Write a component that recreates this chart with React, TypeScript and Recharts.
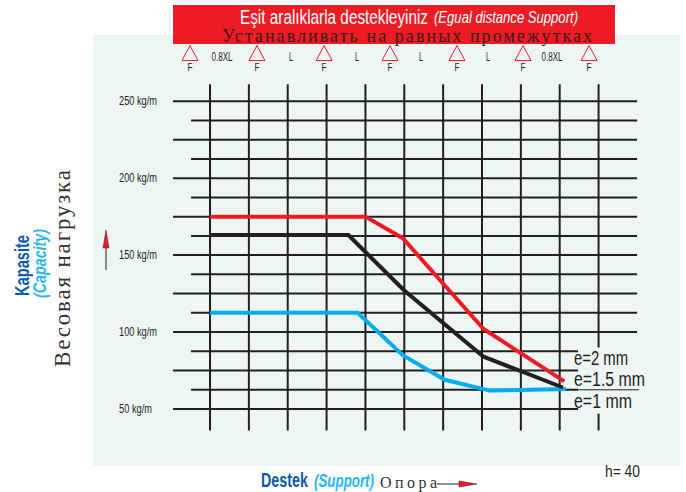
import React from "react";
import { ComposedChart, Line, Scatter, XAxis, YAxis, ReferenceLine } from "recharts";

const xTicks = [0.5, 1, 1.5, 2, 2.5, 3];
const yTicks = [50, 100, 150, 200, 250];
const gridX = [0.5, 0.75, 1, 1.25, 1.5, 1.75, 2, 2.25, 2.5, 2.75];
const gridY = [50, 62.5, 75, 87.5, 100, 112.5, 125, 137.5, 150, 162.5, 175, 187.5, 200, 212.5, 225, 237.5, 250];

const red = [
  { x: 0.5, y: 175 },
  { x: 1.5, y: 175 },
  { x: 1.74, y: 161 },
  { x: 2.26, y: 102 },
  { x: 2.78, y: 68 },
];
const black = [
  { x: 0.5, y: 163 },
  { x: 1.39, y: 163 },
  { x: 1.75, y: 127 },
  { x: 2.26, y: 84 },
  { x: 2.77, y: 64 },
];
const blue = [
  { x: 0.5, y: 112.5 },
  { x: 1.45, y: 112.5 },
  { x: 1.74, y: 85 },
  { x: 2.01, y: 69 },
  { x: 2.3, y: 62 },
  { x: 2.79, y: 63 },
];

const supports = [0.371, 0.802, 1.234, 1.658, 2.089, 2.514, 2.939].map((x) => ({ x, y: 279 }));
const spans = [
  { x: 0.577, y: 279, label: "0.8XL", w: 21 },
  { x: 1.021, y: 279, label: "L", w: 4 },
  { x: 1.446, y: 279, label: "L", w: 4 },
  { x: 1.857, y: 279, label: "L", w: 4 },
  { x: 2.289, y: 279, label: "L", w: 4 },
  { x: 2.701, y: 279, label: "0.8XL", w: 21 },
];

const W = 686;
const H = 492;
const sans = "'Liberation Sans', sans-serif";
const serif = "'Liberation Serif', serif";
const ink = "#231f20";
const panel = "#edf6f4";
const squeeze = { lengthAdjust: "spacingAndGlyphs" as const, fontFamily: sans };

const SupportMark = ({ cx, cy }: any) => (
  <g>
    <polygon points={`${cx},${cy - 11} ${cx + 8},${cy + 4} ${cx - 8},${cy + 4}`} fill="none" stroke="#ed1c24" strokeWidth={1} />
    <text x={cx} y={cy + 14} textAnchor="middle" fontSize={11} textLength={5} {...squeeze} fill={ink}>F</text>
  </g>
);

const SpanLabel = ({ cx, cy, payload }: any) => (
  <text x={cx} y={cy + 4} textAnchor="middle" fontSize={12} textLength={payload.w} {...squeeze} fill={ink}>{payload.label}</text>
);

const XTick = ({ x, payload }: any) => (
  <text x={x - 3} y={445} textAnchor="middle" fontSize={12} textLength={25} {...squeeze} fill={ink}>{payload.value.toFixed(2)} m</text>
);

const YTick = ({ y, payload }: any) => (
  <text x={119} y={y + 4} fontSize={12} textLength={payload.value < 100 ? 33 : 38} {...squeeze} fill={ink}>{payload.value} kg/m</text>
);

export default function App() {
  return (
    <div style={{ position: "absolute", left: 0, top: 0, width: W, height: H, background: "#fff" }}>
      <div style={{ position: "absolute", left: 93, top: 35, width: 587, height: 431, background: panel }} />
      <ComposedChart
        width={W}
        height={H}
        style={{ position: "absolute", left: 0, top: 0 }}
        margin={{ top: 35, right: 6, bottom: 26, left: 0 }}
      >
        <XAxis type="number" dataKey="x" domain={[-0.253, 3.524]} ticks={xTicks} tick={<XTick />} axisLine={false} tickLine={false} height={0} allowDataOverflow />
        <YAxis type="number" domain={[13, 293]} ticks={yTicks} tick={<YTick />} axisLine={false} tickLine={false} width={93} allowDataOverflow />

        {gridY.map((v, i) => (
          <ReferenceLine
            key={v}
            stroke={ink}
            strokeWidth={2}
            segment={[
              { x: i % 2 === 0 ? 0.262 : 0.378, y: v },
              { x: v >= 100 ? 3.248 : 2.868, y: v },
            ]}
          />
        ))}
        <ReferenceLine stroke={ink} strokeWidth={1} segment={[{ x: 2.868, y: 62.5 }, { x: 3.26, y: 62.5 }]} />
        {gridX.map((v) => (
          <ReferenceLine key={v} stroke={ink} strokeWidth={2} segment={[{ x: v, y: 36 }, { x: v, y: 261 }]} />
        ))}
        <ReferenceLine stroke={ink} strokeWidth={2} segment={[{ x: 3, y: 90 }, { x: 3, y: 261 }]} />
        <ReferenceLine stroke={ink} strokeWidth={2} segment={[{ x: 3, y: 36 }, { x: 3, y: 47 }]} />

        <Line data={blue} dataKey="y" stroke="#00aeef" strokeWidth={4} dot={false} isAnimationActive={false} />
        <Line data={red} dataKey="y" stroke="#ed1c24" strokeWidth={4} dot={false} isAnimationActive={false} />
        <Line data={black} dataKey="y" stroke={ink} strokeWidth={4} dot={false} isAnimationActive={false} />
        <Scatter data={supports} dataKey="y" shape={<SupportMark />} isAnimationActive={false} />
        <Scatter data={spans} dataKey="y" shape={<SpanLabel />} isAnimationActive={false} />

        <rect x={173} y={5} width={442} height={39} fill="#ed1c24" />
        <text x={240} y={24} fontSize={20} textLength={188} {...squeeze} fill="#fff">Eşit aralıklarla destekleyiniz</text>
        <text x={434} y={23} fontSize={17} fontStyle="italic" textLength={144} {...squeeze} fill="#fff">(Egual distance Support)</text>
        <text x={222} y={42} fontSize={18} textLength={370} fontFamily={serif} fill="#3a1a1a">Устанавливать на равных промежутках</text>

        <text x={574} y={365} fontSize={20} textLength={54} {...squeeze} fill={ink}>e=2 mm</text>
        <text x={574} y={386} fontSize={20} textLength={71} {...squeeze} fill={ink}>e=1.5 mm</text>
        <text x={574} y={408} fontSize={20} textLength={58} {...squeeze} fill={ink}>e=1 mm</text>
        <text x={605} y={477} fontSize={17} textLength={35} {...squeeze} fill={ink}>h= 40</text>

        <text transform="translate(29,296) rotate(-90)" fontSize={20} fontWeight={700} textLength={61} {...squeeze} fill="#0a5ba8">Kapasite</text>
        <text transform="translate(46,298) rotate(-90)" fontSize={19} fontWeight={700} fontStyle="italic" textLength={69} {...squeeze} fill="#29b6f0">(Capacity)</text>
        <text transform="translate(70,367) rotate(-90)" fontSize={23} textLength={197} fontFamily={serif} fill="#333">Весовая нагрузка</text>

        <line x1={106} y1={248} x2={106} y2={270} stroke={ink} strokeWidth={1} />
        <polygon points="106,230 109,248 103,248" fill="#ed1c24" stroke={ink} strokeWidth={0.5} />

        <text x={261} y={487} fontSize={21} fontWeight={700} textLength={47} {...squeeze} fill="#0a5ba8">Destek</text>
        <text x={314} y={487} fontSize={19} fontWeight={700} fontStyle="italic" textLength={60} {...squeeze} fill="#29b6f0">(Support)</text>
        <text x={380} y={488} fontSize={16} textLength={57} fontFamily={serif} fill="#333">Опора</text>
        <line x1={437} y1={484} x2={462} y2={484} stroke={ink} strokeWidth={1} />
        <polygon points="477,484 459,481 459,487" fill="#ed1c24" stroke={ink} strokeWidth={0.5} />
      </ComposedChart>
    </div>
  );
}
